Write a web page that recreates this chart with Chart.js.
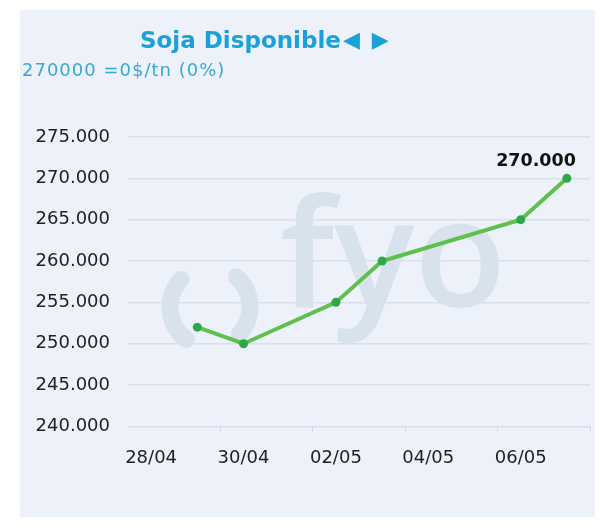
<!DOCTYPE html>
<html>
<head>
<meta charset="utf-8">
<script src="https://cdn.jsdelivr.net/npm/chart.js@4"></script>
<style>
  body { margin: 0; background: #fff; }
  #panel { position: absolute; left: 20px; top: 10px; width: 575px; height: 507px; background: #edf1fa; }
  #chartBox { position: absolute; left: 0; top: 0; width: 575px; height: 507px; }
  .titulo { position: absolute; left: 120px; top: 19px; font: bold 23px "DejaVu Sans", sans-serif; line-height: 1; color: #1ba0d8; white-space: nowrap; }
  .titulo span { font-size: 22px; margin-left: 2px; vertical-align: 1px; }
  .titulo span + span { margin-left: 12px; }
  .sub { position: absolute; left: 2px; top: 51px; font: 18px "DejaVu Sans", sans-serif; letter-spacing: 1px; line-height: 1; color: #3aa8d2; white-space: nowrap; }
</style>
</head>
<body>
<div id="panel">
  <div id="chartBox"><canvas id="grafico"></canvas></div>
  <div class="titulo">Soja Disponible<span>◀</span><span>▶</span></div>
  <div class="sub">270000 =0$/tn (0%)</div>
</div>
<script>
// datos del grafico
const fechas = ['29/04', '30/04', '02/05', '03/05', '06/05', '07/05'];
const precios = [252000, 250000, 255000, 260000, 265000, 270000];
const fechasEje = ['28/04', '30/04', '02/05', '04/05', '06/05'];
const yTicks = [240000, 245000, 250000, 255000, 260000, 265000, 270000, 275000];

// dias contados desde la primera fecha del eje
const diaBase = fechasEje[0];
function dia(s) {
  const [d, m] = s.split('/').map(Number);
  const [d0, m0] = diaBase.split('/').map(Number);
  return Math.round((Date.UTC(2024, m - 1, d) - Date.UTC(2024, m0 - 1, d0)) / 864e5);
}
const miles = n => String(n).replace(/\B(?=(\d{3})+(?!\d))/g, '.');

const marcaAgua = {
  id: 'marcaAgua',
  beforeDraw(chart) {
    const ctx = chart.ctx;
    ctx.save();
    ctx.fillStyle = '#d7e2ec';
    ctx.strokeStyle = '#d7e2ec';
    ctx.font = '600 150px "Open Sans"';
    ctx.textBaseline = 'alphabetic';
    ctx.fillText('fyo', 260, 297);
    ctx.lineWidth = 17;
    ctx.lineCap = 'round';
    ctx.beginPath();
    ctx.arc(190, 297, 40, 2.2, 3.9);
    ctx.stroke();
    ctx.beginPath();
    ctx.arc(190, 297, 40, -0.85, 0.75);
    ctx.stroke();
    ctx.restore();
  }
};

const etiquetaFinal = {
  id: 'etiquetaFinal',
  afterDatasetsDraw(chart) {
    const meta = chart.getDatasetMeta(0);
    const p = meta.data[meta.data.length - 1];
    const ctx = chart.ctx;
    ctx.save();
    ctx.font = 'bold 17.5px "DejaVu Sans"';
    ctx.fillStyle = '#111';
    ctx.textAlign = 'right';
    ctx.textBaseline = 'middle';
    ctx.fillText(miles(precios[precios.length - 1]), p.x + 9, p.y - 17);
    ctx.restore();
  }
};

new Chart(document.getElementById('grafico'), {
  type: 'line',
  data: {
    datasets: [{
      data: fechas.map((f, i) => ({ x: dia(f), y: precios[i] })),
      borderColor: '#5fc04e',
      borderWidth: 4,
      pointRadius: 4.5,
      pointBackgroundColor: '#2ba84a',
      pointBorderWidth: 0,
      tension: 0
    }]
  },
  options: {
    responsive: true,
    maintainAspectRatio: false,
    animation: false,
    layout: { padding: { top: 127, left: 14, right: 5, bottom: 40 } },
    plugins: { legend: { display: false }, tooltip: { enabled: false } },
    scales: {
      x: {
        type: 'linear',
        min: -0.5,
        max: 9.5,
        weight: 1,
        afterBuildTicks: s => { s.ticks = fechasEje.map(f => ({ value: dia(f) })); },
        ticks: {
          callback: v => fechasEje.find(f => dia(f) === v) || '',
          color: '#222',
          font: { family: 'DejaVu Sans', size: 18 },
          padding: 8,
          maxRotation: 0,
          autoSkip: false
        },
        grid: { display: false },
        border: { display: false }
      },
      // marcas del eje x entre etiquetas
      x2: {
        type: 'linear',
        position: 'bottom',
        min: -0.5,
        max: 9.5,
        weight: 0,
        afterBuildTicks: s => { s.ticks = fechasEje.map(f => ({ value: dia(f) + 1.5 })); },
        ticks: { display: false },
        grid: { drawOnChartArea: false, tickLength: 5, color: '#cfd6e2' },
        border: { display: false }
      },
      y: {
        min: 240000,
        max: 275000,
        afterBuildTicks: s => { s.ticks = yTicks.map(v => ({ value: v })); },
        afterFit: s => { s.width = 94; },
        ticks: {
          callback: v => miles(v),
          color: '#222',
          font: { family: 'DejaVu Sans', size: 18 },
          padding: 18
        },
        grid: { color: '#dae0eb', tickLength: 0, lineWidth: 1.5 },
        border: { display: false }
      }
    }
  },
  plugins: [marcaAgua, etiquetaFinal]
});
</script>
</body>
</html>
